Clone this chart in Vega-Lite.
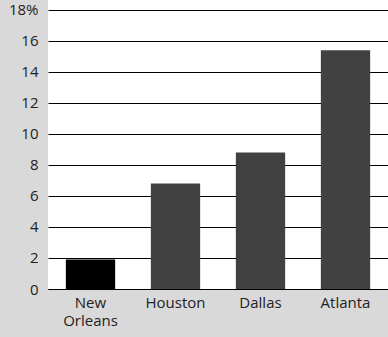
{
  "$schema": "https://vega.github.io/schema/vega-lite/v6.json",
  "autosize": {"type": "none"},
  "width": 340,
  "height": 289,
  "padding": {"left": 48, "top": 0, "right": 0, "bottom": 48},
  "background": "#d9d9d9",
  "config": {
    "view": {"fill": "#ffffff", "stroke": null},
    "font": "Open Sans",
    "axis": {"labelFont": "Open Sans", "labelFontSize": 15, "labelColor": "#222222"}
  },
  "data": {
    "values": [
      {"city": "New Orleans", "share": 1.9, "group": "home"},
      {"city": "Houston", "share": 6.8, "group": "other"},
      {"city": "Dallas", "share": 8.8, "group": "other"},
      {"city": "Atlanta", "share": 15.4, "group": "other"}
    ]
  },
  "mark": {"type": "bar"},
  "encoding": {
    "x": {
      "field": "city",
      "type": "nominal",
      "sort": null,
      "scale": {"paddingInner": 0.42, "paddingOuter": 0.21},
      "axis": {
        "title": null,
        "labelAngle": 0,
        "ticks": false,
        "domain": true,
        "domainColor": "#000000",
        "domainWidth": 1,
        "labelPadding": 6,
        "labelLineHeight": 18,
        "labelExpr": "datum.value == 'New Orleans' ? ['New', 'Orleans'] : datum.label"
      }
    },
    "y": {
      "field": "share",
      "type": "quantitative",
      "scale": {"domain": [0, 18.645], "nice": false, "zero": true},
      "axis": {
        "title": null,
        "values": [0, 2, 4, 6, 8, 10, 12, 14, 16, 18],
        "domain": false,
        "ticks": false,
        "grid": true,
        "gridColor": "#000000",
        "gridWidth": 1,
        "gridOpacity": 1,
        "labelPadding": 10,
        "labelExpr": "datum.value == 18 ? '18%' : datum.label"
      }
    },
    "color": {
      "field": "group",
      "type": "nominal",
      "scale": {"domain": ["home", "other"], "range": ["#000000", "#414141"]},
      "legend": null
    }
  }
}
